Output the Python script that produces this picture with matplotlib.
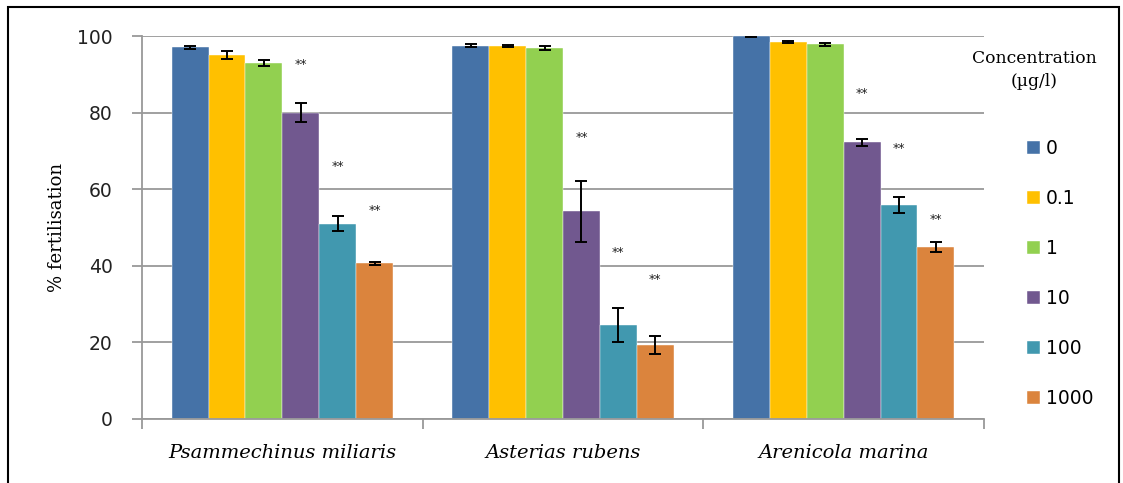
import numpy as np
import matplotlib.pyplot as plt
from matplotlib.patches import Rectangle

# Data
species = ["Psammechinus miliaris", "Asterias rubens", "Arenicola marina"]
concentrations = ["0", "0.1", "1", "10", "100", "1000"]
fertilisation = [
    [97.0, 95.0, 93.0, 80.0, 51.0, 40.7],   # Psammechinus miliaris
    [97.5, 97.3, 96.9, 54.2, 24.5, 19.3],   # Asterias rubens
    [100.0, 98.5, 97.8, 72.3, 55.9, 44.8],  # Arenicola marina
]
errors = [
    [0.3, 1.0, 0.8, 2.4, 1.9, 0.4],
    [0.5, 0.3, 0.5, 7.9, 4.4, 2.3],
    [0.2, 0.3, 0.3, 0.9, 2.0, 1.3],
]
# heights of the "**" significance marks (per species, for 10/100/1000)
sig_heights = [
    [92.5, 66.0, 54.5],
    [73.5, 43.5, 36.3],
    [85.0, 70.5, 52.0],
]

colors = ["#4572A7", "#FFC000", "#92D050", "#71588F", "#4198AF", "#DB843D"]

W, H = 1123, 483
fig = plt.figure(figsize=(W / 100, H / 100), dpi=100)
ax = fig.add_axes([142 / W, 1 - 419 / H, (984 - 142) / W, (419 - 36) / H])

vals = np.array(fertilisation)
errs = np.array(errors)
x = np.arange(len(species))
bw = 0.1315
for i, conc in enumerate(concentrations):
    pos = x + (i - 2.5) * bw
    ax.bar(pos, vals[:, i], width=bw, color=colors[i], label=conc, zorder=2,
           edgecolor="white", linewidth=0.3)
    ax.errorbar(pos, vals[:, i], yerr=errs[:, i], fmt="none", ecolor="black",
                elinewidth=1.4, capsize=4.5, capthick=1.4, zorder=3)

for g in range(len(species)):
    for k, i in enumerate([3, 4, 5]):
        ax.text(x[g] + (i - 2.5) * bw, sig_heights[g][k], "**", ha="center",
                va="center", fontsize=9, color="#222222")

ax.set_xlim(-0.5, 2.5)
ax.set_ylim(0, 100)
ax.set_yticks(range(0, 101, 20))
ax.yaxis.grid(True, color="#999999", linewidth=1.3, zorder=0)
ax.set_axisbelow(True)
for s in ["top", "right"]:
    ax.spines[s].set_visible(False)
for s in ["left", "bottom"]:
    ax.spines[s].set_color("#999999")
    ax.spines[s].set_linewidth(1.3)
ax.tick_params(axis="y", direction="out", length=7, width=1.3, color="#999999",
               labelsize=13.5, pad=14, labelcolor="#222222")

ax.set_xticks([-0.5, 0.5, 1.5, 2.5], minor=True)
ax.set_xticks(x)
ax.set_xticklabels(species, family="DejaVu Serif", style="italic", fontsize=14)
ax.tick_params(axis="x", which="major", length=0, pad=18)
ax.tick_params(axis="x", which="minor", direction="out", length=7, width=1.3,
               color="#999999")

ax.set_ylabel("% fertilisation", family="DejaVu Serif", fontsize=13, labelpad=8)

fig.text(1034 / W, 1 - 70 / H, "Concentration\n(\u00b5g/l)", ha="center", va="center",
         family="DejaVu Serif", fontsize=12.3, linespacing=1.5)
ax.legend(loc="upper left", bbox_to_anchor=(1027 / W, 1 - 139 / H),
          bbox_transform=fig.transFigure, frameon=False, fontsize=13.5,
          handlelength=0.7, handleheight=0.7, handletextpad=0.3,
          labelspacing=1.65, borderaxespad=0, borderpad=0)

fig.patches.append(Rectangle((8 / W, -0.1), (1119 - 8) / W, 1.1 - 7 / H,
                             transform=fig.transFigure, fill=False,
                             edgecolor="black", linewidth=1.5))

fig.savefig("out.png", dpi=100)
